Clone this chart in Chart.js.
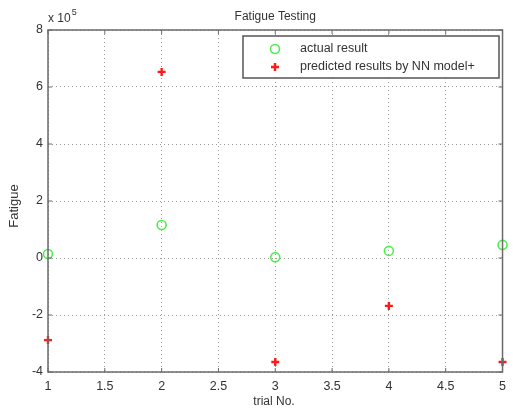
<!DOCTYPE html>
<html><head><meta charset="utf-8">
<script src="https://cdn.jsdelivr.net/npm/chart.js@4"></script>
<style>html,body{margin:0;padding:0;background:#fff}</style>
</head><body>
<canvas id="c" width="513" height="414"></canvas>
<script>
// data (Fatigue, raw units)
const trials = [1,2,3,4,5];
const actualResult = [14000,116000,3000,25000,46000];
const predictedNN = [-288000,653000,-365000,-168000,-365000];
const xTicks = [1,1.5,2,2.5,3,3.5,4,4.5,5];
const yTicks = [-400000,-200000,0,200000,400000,600000,800000];
const expo = 5; // y labels are x 10^5

const FONT = '"Liberation Sans", Arial, sans-serif';
const TXT = '#333';

const matlabBits = {
  id:'matlabBits',
  afterDraw(chart){
    const ctx = chart.ctx, a = chart.chartArea;
    const xs = chart.scales.x, ys = chart.scales.y;
    ctx.save();
    // frame
    ctx.strokeStyle = '#6a6a6a'; ctx.lineWidth = 1.5;
    ctx.strokeRect(a.left, a.top, a.right-a.left, a.bottom-a.top);
    // inward ticks
    ctx.lineWidth = 1;
    xTicks.forEach(v=>{
      const px = xs.getPixelForValue(v);
      ctx.beginPath(); ctx.moveTo(px,a.bottom); ctx.lineTo(px,a.bottom-4);
      ctx.moveTo(px,a.top); ctx.lineTo(px,a.top+4); ctx.stroke();
    });
    yTicks.forEach(v=>{
      const py = ys.getPixelForValue(v);
      ctx.beginPath(); ctx.moveTo(a.left,py); ctx.lineTo(a.left+4,py);
      ctx.moveTo(a.right,py); ctx.lineTo(a.right-4,py); ctx.stroke();
    });
    // texts
    ctx.fillStyle = TXT;
    ctx.font = '12px '+FONT;
    ctx.textAlign = 'center'; ctx.textBaseline = 'middle';
    ctx.fillText('Fatigue Testing', (a.left+a.right)/2, 17);
    ctx.fillText('trial No.', 274, 402);
    ctx.save();
    ctx.translate(14, 206);
    ctx.rotate(-Math.PI/2);
    ctx.font = '13px '+FONT;
    ctx.fillText('Fatigue', 0, 0);
    ctx.restore();
    ctx.textAlign = 'left';
    ctx.font = '12px '+FONT;
    const baseTxt = 'x 10';
    ctx.fillText(baseTxt, a.left, 19);
    const bw = ctx.measureText(baseTxt).width;
    ctx.font = '9px '+FONT;
    ctx.fillText(String(expo), a.left+bw+1, 13);
    // legend
    const lx = 243, ly = 36, lw = 256, lh = 42;
    ctx.fillStyle = '#fff'; ctx.fillRect(lx,ly,lw,lh);
    ctx.strokeStyle = '#555'; ctx.lineWidth = 1.5; ctx.strokeRect(lx,ly,lw,lh);
    const ds = chart.data.datasets;
    const rows = [49, 67];
    ds.forEach((d,i)=>{
      const y = rows[i], mx = 275;
      ctx.strokeStyle = d.borderColor; ctx.lineWidth = d.borderWidth;
      if(d.pointStyle==='circle'){
        ctx.beginPath(); ctx.arc(mx,y,d.pointRadius,0,Math.PI*2); ctx.stroke();
      } else {
        ctx.beginPath(); ctx.moveTo(mx-d.pointRadius,y); ctx.lineTo(mx+d.pointRadius,y);
        ctx.moveTo(mx,y-d.pointRadius); ctx.lineTo(mx,y+d.pointRadius); ctx.stroke();
      }
      ctx.fillStyle = TXT; ctx.font = '12.5px '+FONT; ctx.textAlign='left';
      ctx.fillText(d.label, 300, y);
    });
    ctx.restore();
  }
};

new Chart(document.getElementById('c'), {
  type:'scatter',
  data:{ datasets:[
    { label:'actual result', data:trials.map((t,i)=>({x:t,y:actualResult[i]})), clip:false,
      pointStyle:'circle', pointRadius:4.5, borderColor:'#4cf04c', backgroundColor:'rgba(0,0,0,0)', borderWidth:1.6 },
    { label:'predicted results by NN model+', data:trials.map((t,i)=>({x:t,y:predictedNN[i]})), clip:false,
      pointStyle:'cross', pointRadius:4, borderColor:'#ff1a1a', backgroundColor:'#ff1a1a', borderWidth:2.4 }
  ]},
  options:{
    responsive:false, animation:false,
    layout:{ padding:{ top:30, right:7, left:0, bottom:0 } },
    plugins:{ legend:{display:false}, title:{display:false}, tooltip:{enabled:false} },
    scales:{
      x:{ type:'linear', min:1, max:5,
        afterBuildTicks: s=>{ s.ticks = xTicks.map(v=>({value:v})); },
        afterFit: s=>{ s.height = 42; },
        grid:{ color:'#9a9a9a', drawTicks:false, lineWidth:1 },
        border:{ display:false, dash:[1,3] },
        ticks:{ padding:7, color:TXT, font:{family:FONT, size:12.5}, maxRotation:0, autoSkip:false,
          callback:v=>String(v) } },
      y:{ type:'linear', min:-400000, max:800000,
        afterBuildTicks: s=>{ s.ticks = yTicks.map(v=>({value:v})); },
        afterFit: s=>{ s.width = 48; },
        grid:{ color:'#9a9a9a', drawTicks:false, lineWidth:1 },
        border:{ display:false, dash:[1,3] },
        ticks:{ padding:5, color:TXT, font:{family:FONT, size:12.5},
          callback:v=>String(v/Math.pow(10,expo)) } }
    }
  },
  plugins:[matlabBits]
});
</script>
</body></html>
